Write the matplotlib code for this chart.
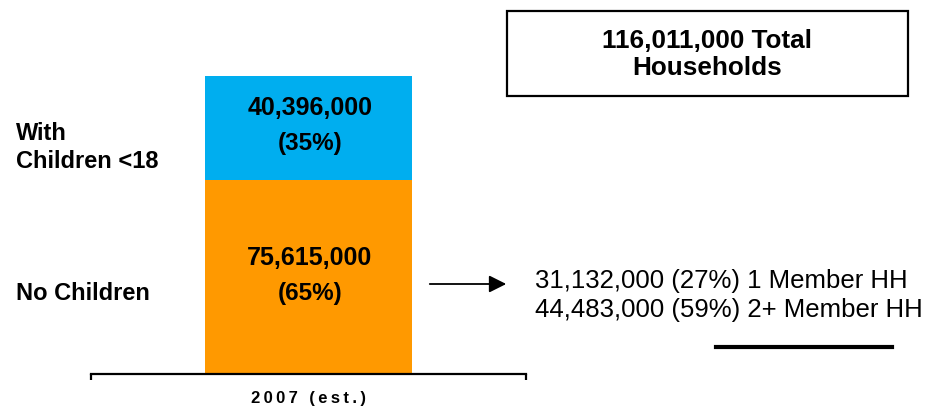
import matplotlib
matplotlib.use("Agg")
import matplotlib.pyplot as plt
from matplotlib.patches import Rectangle, FancyArrowPatch
from matplotlib.lines import Line2D

plt.rcParams['font.family'] = ['Liberation Sans', 'DejaVu Sans']

# ---- data ----
categories = ["2007 (est.)"]
no_children = [75615000]
with_children = [40396000]
no_children_pct = [65]
with_children_pct = [35]
total_households = 116011000
split_values = [31132000, 44483000]
split_pcts = [27, 59]
split_labels = ["1 Member HH", "2+ Member HH"]
series_names = ["With\nChildren <18", "No Children"]

BLUE = "#00AEEF"
ORANGE = "#FF9900"

W, H = 939, 407
fig = plt.figure(figsize=(W / 100, H / 100), dpi=100)

def fx(px):
    return px / W

def fy(py):
    return 1 - py / H

# axes: x from 91 to 526 px, bottom at 374 px, top at 0 px
ax = fig.add_axes([fx(91), fy(374), fx(526) - fx(91), 374 / H])
ax.set_xlim(-0.5, 0.5)
ax.set_ylim(0, 145.6e6)
x = list(range(len(categories)))
ax.bar(x, no_children, width=0.476, color=ORANGE, linewidth=0)
ax.bar(x, with_children, bottom=no_children, width=0.476, color=BLUE, linewidth=0)

for s in ["top", "left", "right"]:
    ax.spines[s].set_visible(False)
ax.spines["bottom"].set_linewidth(1.6)
ax.set_yticks([])
ax.set_xticks([-0.5, 0.5], minor=True)
ax.tick_params(axis="x", which="minor", direction="out", length=4, width=1.6)
ax.set_xticks(x)
ax.set_xticklabels(["\u2009".join(c) for c in categories], fontsize=12,
                   fontweight="bold")
ax.tick_params(axis="x", which="major", length=0, pad=12)

def fmt(v):
    return f"{v:,}"

# value labels inside bars
bx = 310
fig.text(fx(bx), fy(115), fmt(with_children[0]), ha="center", va="baseline",
         fontsize=18, fontweight="bold")
fig.text(fx(bx), fy(150), f"({with_children_pct[0]}%)", ha="center", va="baseline",
         fontsize=17.5, fontweight="bold")
fig.text(fx(bx), fy(265), fmt(no_children[0]), ha="center", va="baseline",
         fontsize=18, fontweight="bold")
fig.text(fx(bx), fy(300), f"({no_children_pct[0]}%)", ha="center", va="baseline",
         fontsize=17.5, fontweight="bold")

# series labels on left
wl = series_names[0].split("\n")
fig.text(fx(16), fy(140), wl[0], ha="left", va="baseline", fontsize=17, fontweight="bold")
fig.text(fx(16), fy(168), wl[1], ha="left", va="baseline", fontsize=17, fontweight="bold")
fig.text(fx(16), fy(300), series_names[1], ha="left", va="baseline", fontsize=17,
         fontweight="bold")

# total box
fig.patches.append(Rectangle((fx(507), fy(96)), fx(908) - fx(507), fy(11) - fy(96),
                             transform=fig.transFigure, fill=False, edgecolor="black",
                             linewidth=1.6))
fig.text(fx(707), fy(48), f"{fmt(total_households)} Total", ha="center", va="baseline",
         fontsize=18.8, fontweight="bold")
fig.text(fx(707), fy(75), "Households", ha="center", va="baseline",
         fontsize=18.8, fontweight="bold")

# arrow
fig.patches.append(FancyArrowPatch((fx(427), fy(284)), (fx(509), fy(284)),
                                   transform=fig.transFigure, arrowstyle="-|>",
                                   mutation_scale=26, linewidth=1.3, color="black"))

# split breakdown
for i, (v, p, lab) in enumerate(zip(split_values, split_pcts, split_labels)):
    fig.text(fx(535), fy(288 + 29 * i), f"{fmt(v)} ({p}%) {lab}", ha="left",
             va="baseline", fontsize=18.5)

# underline
fig.lines.append(Line2D([fx(716), fx(892)], [fy(347), fy(347)],
                        transform=fig.transFigure, color="black", linewidth=3))

fig.savefig("out.png", dpi=100)
